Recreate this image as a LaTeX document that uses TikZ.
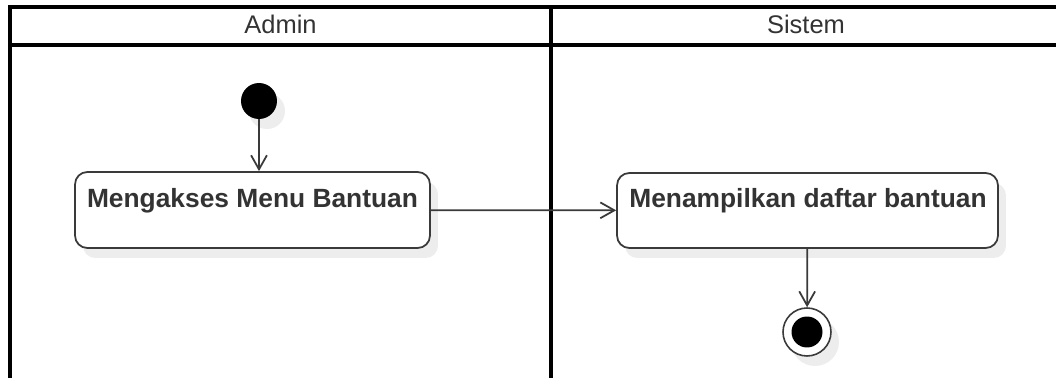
\documentclass[tikz,border=0pt]{standalone}
\usepackage{fontspec}
\setmainfont{Liberation Sans}
\usetikzlibrary{arrows.meta,shadows}
\definecolor{txt}{HTML}{333333}
\definecolor{edgec}{HTML}{3A3A3A}
\definecolor{shade}{HTML}{EDEDED}
\begin{document}
\begin{tikzpicture}[x=0.02cm,y=-0.02cm,
  lane/.style={draw=black,line width=2.1pt},
  head/.style={text=txt,font=\fontsize{14.5}{16}\selectfont,inner sep=0pt},
  shd/.style={drop shadow={shadow xshift=0.16cm,shadow yshift=-0.2cm,fill=shade,opacity=1}},
  act/.style={draw=edgec,line width=1pt,rounded corners=7pt,fill=white,shd,inner sep=0pt},
  acttext/.style={text=txt,font=\bfseries\fontsize{15}{17}\selectfont,inner sep=0pt,anchor=base},
  conn/.style={draw=edgec,line width=1pt,-{Straight Barb[length=8pt,width=9pt,line width=1pt]}}]
\useasboundingbox (0,0) rectangle (1056,378);
% swimlanes
\fill[white] (0,0) rectangle (1056,378);
\draw[lane] (10,400) -- (10,7) -- (1062,7) -- (1062,400);
\draw[lane] (10,45) -- (1062,45);
\draw[lane] (551,7) -- (551,400);
\node[head,anchor=base] (hadmin) at (280.5,34) {Admin};
\node[head,anchor=base] (hsistem) at (806,34) {Sistem};
% nodes
\node[circle,fill=black,minimum size=0.72cm,inner sep=0pt,shd] (start) at (259,101) {};
\node[act,minimum width=7.1cm,minimum height=1.52cm] (box1) at (252.5,210) {};
\node[acttext] (t1) at (252.5,208) {Mengakses Menu Bantuan};
\node[act,minimum width=7.62cm,minimum height=1.5cm] (box2) at (807.5,210.5) {};
\node[acttext] (t2) at (808,208) {Menampilkan daftar bantuan};
\node[circle,draw=edgec,line width=0.9pt,fill=white,minimum size=0.96cm,inner sep=0pt,shd] (final) at (807,332) {};
\node[circle,fill=black,minimum size=0.62cm,inner sep=0pt] (finalin) at (final.center) {};
% connectors
\draw[conn] (start) -- (start |- box1.north);
\draw[conn] (box1) -- (box2);
\draw[conn] (box2) -- (final);
\end{tikzpicture}
\end{document}
